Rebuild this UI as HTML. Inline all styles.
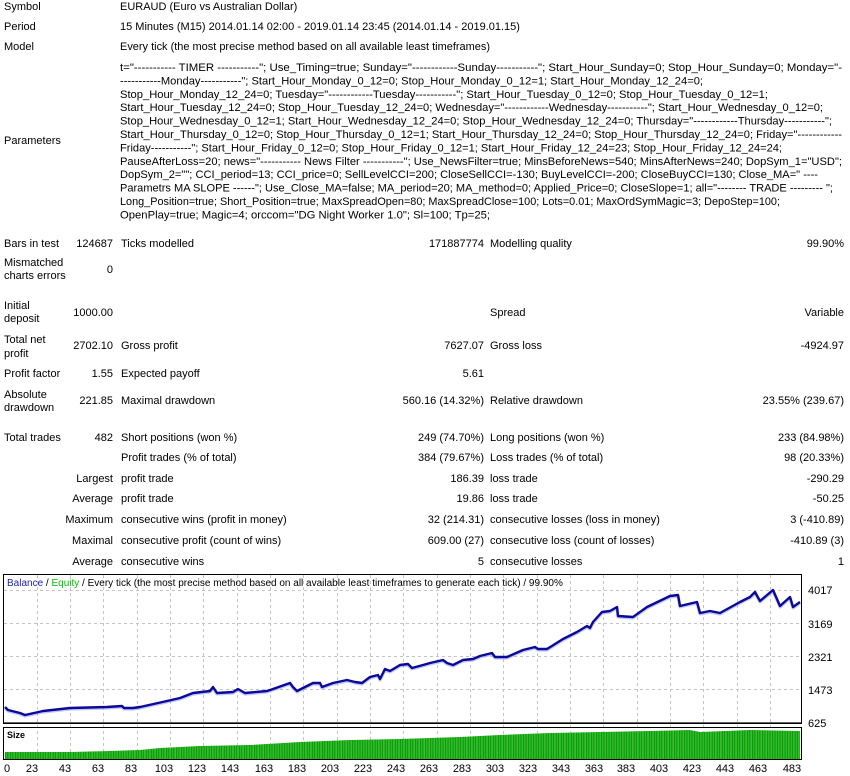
<!DOCTYPE html>
<html><head><meta charset="utf-8"><style>
html,body{margin:0;padding:0;background:#fff;}
svg{display:block}
text{font-family:"Liberation Sans",sans-serif;font-size:11px;fill:#000}
.r{text-anchor:end}
</style></head><body>
<svg width="850" height="776" viewBox="0 0 850 776" xmlns="http://www.w3.org/2000/svg">
<defs>
<pattern id="bars" width="1.66" height="10" patternUnits="userSpaceOnUse">
<rect x="0" y="0" width="1.66" height="10" fill="#7ccf6c"/>
<rect x="0" y="0" width="1.2" height="10" fill="#00a000"/>
</pattern>
</defs>
<text x="4" y="10">Symbol</text><text x="120" y="10">EURAUD (Euro vs Australian Dollar)</text>
<text x="4" y="30">Period</text><text x="120" y="30">15 Minutes (M15) 2014.01.14 02:00 - 2019.01.14 23:45 (2014.01.14 - 2019.01.15)</text>
<text x="4" y="50">Model</text><text x="120" y="50" textLength="370" lengthAdjust="spacingAndGlyphs">Every tick (the most precise method based on all available least timeframes)</text>
<text x="4" y="144">Parameters</text>
<g>
<text x="120" y="71" textLength="722" lengthAdjust="spacingAndGlyphs">t="----------- TIMER -----------"; Use_Timing=true; Sunday="------------Sunday-----------"; Start_Hour_Sunday=0; Stop_Hour_Sunday=0; Monday="-</text>
<text x="120" y="84.4" textLength="583" lengthAdjust="spacingAndGlyphs">-----------Monday-----------"; Start_Hour_Monday_0_12=0; Stop_Hour_Monday_0_12=1; Start_Hour_Monday_12_24=0;</text>
<text x="120" y="97.8" textLength="648" lengthAdjust="spacingAndGlyphs">Stop_Hour_Monday_12_24=0; Tuesday="------------Tuesday-----------"; Start_Hour_Tuesday_0_12=0; Stop_Hour_Tuesday_0_12=1;</text>
<text x="120" y="111.2" textLength="703" lengthAdjust="spacingAndGlyphs">Start_Hour_Tuesday_12_24=0; Stop_Hour_Tuesday_12_24=0; Wednesday="------------Wednesday-----------"; Start_Hour_Wednesday_0_12=0;</text>
<text x="120" y="124.6" textLength="712" lengthAdjust="spacingAndGlyphs">Stop_Hour_Wednesday_0_12=1; Start_Hour_Wednesday_12_24=0; Stop_Hour_Wednesday_12_24=0; Thursday="------------Thursday-----------";</text>
<text x="120" y="138" textLength="722" lengthAdjust="spacingAndGlyphs">Start_Hour_Thursday_0_12=0; Stop_Hour_Thursday_0_12=1; Start_Hour_Thursday_12_24=0; Stop_Hour_Thursday_12_24=0; Friday="------------</text>
<text x="120" y="151.4" textLength="662" lengthAdjust="spacingAndGlyphs">Friday-----------"; Start_Hour_Friday_0_12=0; Stop_Hour_Friday_0_12=1; Start_Hour_Friday_12_24=23; Stop_Hour_Friday_12_24=24;</text>
<text x="120" y="164.8" textLength="722" lengthAdjust="spacingAndGlyphs">PauseAfterLoss=20; news="----------- News Filter -----------"; Use_NewsFilter=true; MinsBeforeNews=540; MinsAfterNews=240; DopSym_1="USD";</text>
<text x="120" y="178.2" textLength="698" lengthAdjust="spacingAndGlyphs">DopSym_2=""; CCI_period=13; CCI_price=0; SellLevelCCI=200; CloseSellCCI=-130; BuyLevelCCI=-200; CloseBuyCCI=130; Close_MA=" ----</text>
<text x="120" y="191.6" textLength="713" lengthAdjust="spacingAndGlyphs">Parametrs MA SLOPE ------"; Use_Close_MA=false; MA_period=20; MA_method=0; Applied_Price=0; CloseSlope=1; all="-------- TRADE --------- ";</text>
<text x="120" y="205" textLength="660" lengthAdjust="spacingAndGlyphs">Long_Position=true; Short_Position=true; MaxSpreadOpen=80; MaxSpreadClose=100; Lots=0.01; MaxOrdSymMagic=3; DepoStep=100;</text>
<text x="120" y="218.4" textLength="370" lengthAdjust="spacingAndGlyphs">OpenPlay=true; Magic=4; orccom="DG Night Worker 1.0"; Sl=100; Tp=25;</text>
</g>
<text x="4" y="247">Bars in test</text><text x="113" y="247" class="r">124687</text><text x="121" y="247">Ticks modelled</text><text x="484" y="247" class="r">171887774</text><text x="490" y="247">Modelling quality</text><text x="844" y="247" class="r">99.90%</text>
<text x="4" y="266">Mismatched</text><text x="4" y="279">charts errors</text><text x="113" y="273" class="r">0</text>
<text x="4" y="309">Initial</text><text x="4" y="322">deposit</text><text x="113" y="316" class="r">1000.00</text><text x="490" y="316">Spread</text><text x="844" y="316" class="r">Variable</text>
<text x="4" y="343">Total net</text><text x="4" y="357">profit</text><text x="113" y="349" class="r">2702.10</text><text x="121" y="349">Gross profit</text><text x="484" y="349" class="r">7627.07</text><text x="490" y="349">Gross loss</text><text x="844" y="349" class="r">-4924.97</text>
<text x="4" y="377">Profit factor</text><text x="113" y="377" class="r">1.55</text><text x="121" y="377">Expected payoff</text><text x="484" y="377" class="r">5.61</text>
<text x="4" y="398">Absolute</text><text x="4" y="411">drawdown</text><text x="113" y="404" class="r">221.85</text><text x="121" y="404">Maximal drawdown</text><text x="484" y="404" class="r">560.16 (14.32%)</text><text x="490" y="404">Relative drawdown</text><text x="844" y="404" class="r">23.55% (239.67)</text>
<text x="4" y="441">Total trades</text><text x="113" y="441" class="r">482</text><text x="121" y="441">Short positions (won %)</text><text x="484" y="441" class="r">249 (74.70%)</text><text x="490" y="441">Long positions (won %)</text><text x="844" y="441" class="r">233 (84.98%)</text>
<text x="121" y="461">Profit trades (% of total)</text><text x="484" y="461" class="r">384 (79.67%)</text><text x="490" y="461">Loss trades (% of total)</text><text x="844" y="461" class="r">98 (20.33%)</text>
<text x="113" y="482" class="r">Largest</text><text x="121" y="482">profit trade</text><text x="484" y="482" class="r">186.39</text><text x="490" y="482">loss trade</text><text x="844" y="482" class="r">-290.29</text>
<text x="113" y="502" class="r">Average</text><text x="121" y="502">profit trade</text><text x="484" y="502" class="r">19.86</text><text x="490" y="502">loss trade</text><text x="844" y="502" class="r">-50.25</text>
<text x="113" y="523" class="r">Maximum</text><text x="121" y="523">consecutive wins (profit in money)</text><text x="484" y="523" class="r">32 (214.31)</text><text x="490" y="523">consecutive losses (loss in money)</text><text x="844" y="523" class="r">3 (-410.89)</text>
<text x="113" y="544" class="r">Maximal</text><text x="121" y="544">consecutive profit (count of wins)</text><text x="484" y="544" class="r">609.00 (27)</text><text x="490" y="544">consecutive loss (count of losses)</text><text x="844" y="544" class="r">-410.89 (3)</text>
<text x="113" y="565" class="r">Average</text><text x="121" y="565">consecutive wins</text><text x="484" y="565" class="r">5</text><text x="490" y="565">consecutive losses</text><text x="844" y="565" class="r">1</text>

<g stroke="#c4c4c4" stroke-width="1" stroke-dasharray="3,3" fill="none">
<path d="M4 590.5H801 M4 623.5H801 M4 656.5H801 M4 689.5H801"/>
<path d="M37.5 575V760 M70.5 575V760 M103.5 575V760 M137.5 575V760 M170.5 575V760 M203.5 575V760 M237.5 575V760 M270.5 575V760 M303.5 575V760 M337.5 575V760 M370.5 575V760 M403.5 575V760 M437.5 575V760 M470.5 575V760 M503.5 575V760 M537.5 575V760 M570.5 575V760 M603.5 575V760 M637.5 575V760 M670.5 575V760 M703.5 575V760 M737.5 575V760 M770.5 575V760"/>
</g>
<polygon fill="url(#bars)" points="5,759 5,752 70,752 110,751 140,750 160,748 200,746 250,745 300,742 350,740 400,739 460,737 500,735 550,733 600,732 650,731 690,730 700,732 750,730 800,731 800,759"/>
<text x="7" y="586" style="font-size:10px"><tspan style="fill:#1c1cb0">Balance</tspan> / <tspan style="fill:#00c000">Equity</tspan> / Every tick (the most precise method based on all available least timeframes to generate each tick) / 99.90%</text>
<text x="7" y="738" style="font-size:9px;font-weight:bold">Size</text>
<polyline fill="none" stroke="#9aa0ff" stroke-width="3.2" stroke-linejoin="round" opacity="0.6" transform="translate(0,1)" points="5,707 8,710 20,713 25,715 43,711 70,708 107,707 122,706 124,708 133,708 140,707 167,701 180,698 193,693 210,691 213,687 217,693 233,692 238,689 245,693 267,691 273,689 290,683 293,687 297,691 313,683 320,683 322,687 333,683 347,680 355,682 362,683 370,677 378,675 380,679 385,669 390,671 400,665 408,664 412,668 423,665 430,663 443,660 447,663 453,665 463,660 473,659 480,656 492,653 495,657 507,657 523,650 535,647 538,649 547,649 563,639 577,632 587,626 590,628 593,622 602,612 610,611 617,607 618,616 633,617 647,607 670,596 678,595 680,606 697,602 700,613 710,611 720,613 740,602 750,597 755,592 760,601 773,590 780,606 790,597 793,607 800,602"/>
<polyline fill="none" stroke="#0a0a96" stroke-width="2.4" stroke-linejoin="round" points="5,707 8,710 20,713 25,715 43,711 70,708 107,707 122,706 124,708 133,708 140,707 167,701 180,698 193,693 210,691 213,687 217,693 233,692 238,689 245,693 267,691 273,689 290,683 293,687 297,691 313,683 320,683 322,687 333,683 347,680 355,682 362,683 370,677 378,675 380,679 385,669 390,671 400,665 408,664 412,668 423,665 430,663 443,660 447,663 453,665 463,660 473,659 480,656 492,653 495,657 507,657 523,650 535,647 538,649 547,649 563,639 577,632 587,626 590,628 593,622 602,612 610,611 617,607 618,616 633,617 647,607 670,596 678,595 680,606 697,602 700,613 710,611 720,613 740,602 750,597 755,592 760,601 773,590 780,606 790,597 793,607 800,602"/>
<rect x="3.5" y="574.5" width="798" height="148.5" fill="none" stroke="#000" stroke-width="1"/>
<line x1="3" y1="723.2" x2="802" y2="723.2" stroke="#000" stroke-width="1.6"/>
<rect x="3.5" y="727.5" width="798" height="32" fill="none" stroke="#000" stroke-width="1"/>
<g style="font-size:10px">
<text x="808" y="594">4017</text><text x="808" y="628">3169</text><text x="808" y="661">2321</text><text x="808" y="694">1473</text><text x="808" y="727">625</text>
</g>
<g style="font-size:10px" text-anchor="middle">
<text x="7" y="772">0</text><text x="32" y="772">23</text><text x="65" y="772">43</text><text x="98" y="772">63</text><text x="131" y="772">83</text><text x="164" y="772">103</text><text x="197" y="772">123</text><text x="230" y="772">143</text><text x="264" y="772">163</text><text x="297" y="772">183</text><text x="330" y="772">203</text><text x="363" y="772">223</text><text x="396" y="772">243</text><text x="429" y="772">263</text><text x="462" y="772">283</text><text x="495" y="772">303</text><text x="528" y="772">323</text><text x="561" y="772">343</text><text x="594" y="772">363</text><text x="626" y="772">383</text><text x="659" y="772">403</text><text x="692" y="772">423</text><text x="725" y="772">443</text><text x="758" y="772">463</text><text x="792" y="772">483</text>
</g>
</svg>
</body></html>
